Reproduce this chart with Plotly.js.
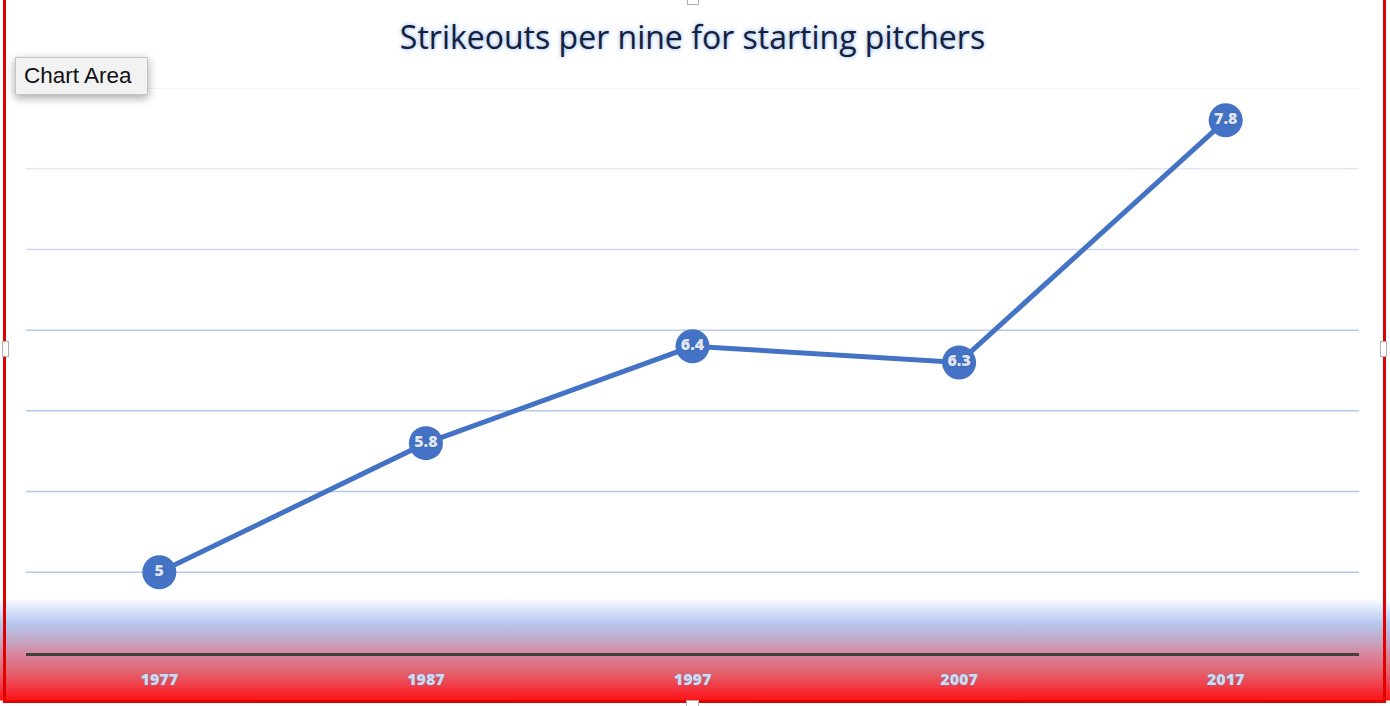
<!DOCTYPE html>
<html>
<head>
<meta charset="utf-8">
<script src="https://cdn.plot.ly/plotly-3.0.1.min.js"></script>
<style>
  html, body { margin: 0; padding: 0; background: #ffffff; }
  #wrap { position: relative; width: 1390px; height: 706px; overflow: hidden;
    background: linear-gradient(to bottom, #ffffff 0px, #ffffff 598px, #d3e0fa 612px, #b5c6ec 624px, #c3a8c6 640px, #d7869e 654px, #e3636f 672px, #f5303a 690px, #ff1414 700px, #ffffff 701px); }
  #chart { position: absolute; left: 0; top: 0; width: 1390px; height: 706px; }
  #frame { position: absolute; left: 3px; top: -4px; width: 1377px; height: 701px;
    border: 3px solid #e00000; pointer-events: none; }
  .handle { position: absolute; background: #ffffff; border: 1px solid #b0b0b0; }
  #tip { position: absolute; left: 15px; top: 57px; width: 123px; height: 36px;
    background: #f2f2f2; border: 1px solid #c4c4c4; box-shadow: 0 3px 9px rgba(0,0,0,0.35);
    font-family: "Liberation Sans", Arial, sans-serif; font-size: 22.5px; color: #111;
    line-height: 36px; padding-left: 8px; box-sizing: content-box; white-space: nowrap; }
</style>
</head>
<body>
<div id="wrap">
  <div id="chart"></div>
  <div id="frame"></div>
  <div class="handle" style="left:687px; top:-6px; width:10px; height:9px;"></div>
  <div class="handle" style="left:686px; top:700px; width:11px; height:9px;"></div>
  <div class="handle" style="left:2px; top:341px; width:5px; height:14px;"></div>
  <div class="handle" style="left:1380px; top:341px; width:5px; height:14px;"></div>
  <div id="tip">Chart Area</div>
</div>
<script>
// ---- data ----
const years = ["1977", "1987", "1997", "2007", "2017"];
const strikeoutsPerNine = [5.0, 5.8, 6.4, 6.3, 7.8];
const dataLabels = ["5", "5.8", "6.4", "6.3", "7.8"];
const gridValues = [5.0, 5.5, 6.0, 6.5, 7.0, 7.5, 8.0];
const gridColors = ["#b4c7e7", "#b4c7e7", "#b6c8e7", "#bccbe8", "#cdd8ee", "#e2e7f3", "#f1f2f6"];

const trace = {
  type: "scatter",
  mode: "lines+markers+text",
  x: years,
  y: strikeoutsPerNine,
  text: dataLabels,
  textposition: "middle center",
  textfont: { family: "Open Sans, Liberation Sans, sans-serif", size: 16, weight: 800,
    color: "#dfe6f5", shadow: "0 0 2px #3d5f9f" },
  line: { color: "#4472c4", width: 5 },
  marker: { color: "#4472c4", size: 34, line: { width: 0 } },
  hoverinfo: "x+y",
  cliponaxis: false
};

const shapes = gridValues.map((v, i) => ({
  type: "line", xref: "paper", yref: "y", x0: 0, x1: 1, y0: v, y1: v,
  line: { color: gridColors[i], width: 1.5 }, layer: "below"
}));

const layout = {
  width: 1390, height: 706,
  paper_bgcolor: "rgba(0,0,0,0)",
  plot_bgcolor: "rgba(0,0,0,0)",
  margin: { l: 26, r: 31, t: 88, b: 53 },
  showlegend: false,
  title: {
    text: "Strikeouts per nine for starting pitchers",
    x: 0.5, xref: "paper", xanchor: "center",
    y: 1 - 38 / 706, yref: "container", yanchor: "middle",
    font: { family: "Open Sans, Liberation Sans, sans-serif", size: 32, color: "#15203d",
      shadow: "0 0 4px #7faae6" }
  },
  xaxis: {
    type: "category",
    range: [-0.5, 4.5],
    showgrid: false, zeroline: false,
    showline: true, linecolor: "#404040", linewidth: 3,
    ticks: "",
    ticklabelstandoff: 10,
    tickfont: { family: "Open Sans, Liberation Sans, sans-serif", size: 16, weight: 800,
      color: "#d0daf0", shadow: "0 0 2px #6f7fa8" },
    fixedrange: true
  },
  yaxis: {
    range: [4.5, 8.0],
    showgrid: false, zeroline: false, showline: false,
    showticklabels: false, ticks: "",
    fixedrange: true
  },
  shapes: shapes
};

Plotly.newPlot("chart", [trace], layout, { displayModeBar: false, staticPlot: false });
</script>
</body>
</html>
